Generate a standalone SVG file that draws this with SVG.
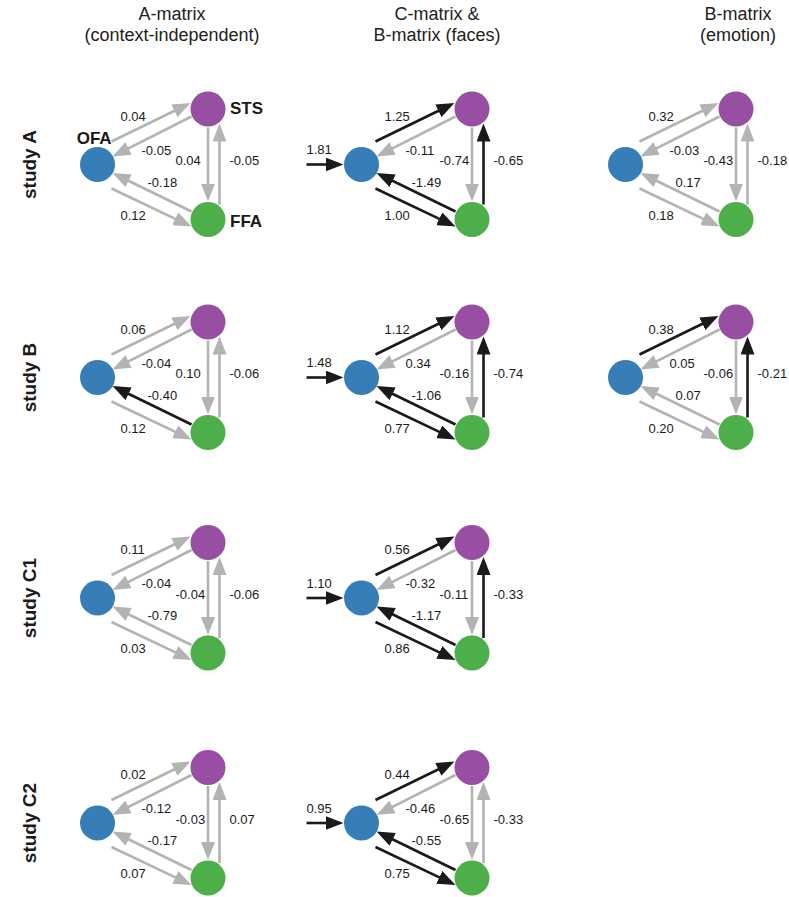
<svg xmlns="http://www.w3.org/2000/svg" width="789" height="897" viewBox="0 0 789 897">
<style>
text{font-family:"Liberation Sans",Arial,sans-serif;fill:#1a1a1a}
.hd{font-size:18px;text-anchor:middle;fill:#222}
.rl{font-size:19px;font-weight:bold;text-anchor:middle}
.nl{font-size:17px;font-weight:bold}
.v{font-size:13px}
.g{stroke:#b3b3b3;stroke-width:2.6;fill:none;marker-end:url(#mg)}
.k{stroke:#1a1a1a;stroke-width:2.6;fill:none;marker-end:url(#mk)}
.ofa{fill:#377eb8}.sts{fill:#984ea3}.ffa{fill:#4daf4a}
</style>
<defs>
<marker id="mg" markerUnits="userSpaceOnUse" markerWidth="19" markerHeight="14" refX="10" refY="7" orient="auto"><path d="M0,0 L18,7 L0,14 z" fill="#b3b3b3"/></marker>
<marker id="mk" markerUnits="userSpaceOnUse" markerWidth="19" markerHeight="14" refX="10" refY="7" orient="auto"><path d="M0,0 L18,7 L0,14 z" fill="#1a1a1a"/></marker>
</defs>
<rect width="789" height="897" fill="#fff"/>
<g id="headers">
<text class="hd" x="172" y="20">A-matrix</text>
<text class="hd" x="172" y="41">(context-independent)</text>
<text class="hd" x="437" y="20">C-matrix &amp;</text>
<text class="hd" x="437" y="41">B-matrix (faces)</text>
<text class="hd" x="738" y="20">B-matrix</text>
<text class="hd" x="738" y="41">(emotion)</text>
</g>
<g id="row-labels">
<text class="rl" transform="translate(36,164.5) rotate(-90)">study A</text>
<text class="rl" transform="translate(36,377.5) rotate(-90)">study B</text>
<text class="rl" transform="translate(36,598) rotate(-90)">study C1</text>
<text class="rl" transform="translate(36,823) rotate(-90)">study C2</text>
</g>

<!-- Study A, A-matrix -->
<g id="pA1" transform="translate(97.5,164.5)">
<g id="pA1-connectors">
<path class="g" d="M14,-23 L85.8,-58"/><path class="g" d="M94,-48 L22.1,-11.6"/><path class="g" d="M110.5,-37 L110.5,29"/><path class="g" d="M122,40 L122,-33"/><path class="g" d="M94,47 L22.2,12"/><path class="g" d="M14,24 L86.8,58.6"/>
<text class="v" x="23" y="-44">0.04</text><text class="v" x="44" y="-10">-0.05</text><text class="v" x="78" y="0.5">0.04</text><text class="v" x="132" y="0.5">-0.05</text><text class="v" x="50" y="22">-0.18</text><text class="v" x="23" y="55">0.12</text>
</g>
<g id="pA1-OFA"><circle class="ofa" r="17.5"/><text class="nl" x="-20.8" y="-20.2">OFA</text></g>
<g id="pA1-STS"><circle class="sts" cx="110.5" cy="-55.5" r="17.5"/><text class="nl" x="132.5" y="-50.5">STS</text></g>
<g id="pA1-FFA"><circle class="ffa" cx="110.5" cy="55" r="17.5"/><text class="nl" x="132.5" y="62.8">FFA</text></g>
</g>

<!-- Study B, A-matrix -->
<g id="pB1" transform="translate(97.5,377.5)">
<g id="pB1-connectors">
<path class="g" d="M14,-23 L85.8,-58"/><path class="g" d="M94,-48 L22.1,-11.6"/><path class="g" d="M110.5,-37 L110.5,29"/><path class="g" d="M122,40 L122,-33"/><path class="k" d="M94,47 L22.2,12"/><path class="g" d="M14,24 L86.8,58.6"/>
<text class="v" x="23" y="-44">0.06</text><text class="v" x="44" y="-10">-0.04</text><text class="v" x="78" y="0.5">0.10</text><text class="v" x="132" y="0.5">-0.06</text><text class="v" x="50" y="22">-0.40</text><text class="v" x="23" y="55">0.12</text>
</g>
<g id="pB1-OFA"><circle class="ofa" r="17.5"/></g>
<g id="pB1-STS"><circle class="sts" cx="110.5" cy="-55.5" r="17.5"/></g>
<g id="pB1-FFA"><circle class="ffa" cx="110.5" cy="55" r="17.5"/></g>
</g>

<!-- Study C1, A-matrix -->
<g id="pC11" transform="translate(97.5,598)">
<g id="pC11-connectors">
<path class="g" d="M14,-23 L85.8,-58"/><path class="g" d="M94,-48 L22.1,-11.6"/><path class="g" d="M110.5,-37 L110.5,29"/><path class="g" d="M122,40 L122,-33"/><path class="g" d="M94,47 L22.2,12"/><path class="g" d="M14,24 L86.8,58.6"/>
<text class="v" x="23" y="-44">0.11</text><text class="v" x="44" y="-10">-0.04</text><text class="v" x="78" y="0.5">-0.04</text><text class="v" x="132" y="0.5">-0.06</text><text class="v" x="50" y="22">-0.79</text><text class="v" x="23" y="55">0.03</text>
</g>
<g id="pC11-OFA"><circle class="ofa" r="17.5"/></g>
<g id="pC11-STS"><circle class="sts" cx="110.5" cy="-55.5" r="17.5"/></g>
<g id="pC11-FFA"><circle class="ffa" cx="110.5" cy="55" r="17.5"/></g>
</g>

<!-- Study C2, A-matrix -->
<g id="pC21" transform="translate(97.5,823)">
<g id="pC21-connectors">
<path class="g" d="M14,-23 L85.8,-58"/><path class="g" d="M94,-48 L22.1,-11.6"/><path class="g" d="M110.5,-37 L110.5,29"/><path class="g" d="M122,40 L122,-33"/><path class="g" d="M94,47 L22.2,12"/><path class="g" d="M14,24 L86.8,58.6"/>
<text class="v" x="23" y="-44">0.02</text><text class="v" x="44" y="-10">-0.12</text><text class="v" x="78" y="0.5">-0.03</text><text class="v" x="132" y="0.5">0.07</text><text class="v" x="50" y="22">-0.17</text><text class="v" x="23" y="55">0.07</text>
</g>
<g id="pC21-OFA"><circle class="ofa" r="17.5"/></g>
<g id="pC21-STS"><circle class="sts" cx="110.5" cy="-55.5" r="17.5"/></g>
<g id="pC21-FFA"><circle class="ffa" cx="110.5" cy="55" r="17.5"/></g>
</g>

<!-- Study A, C/B faces -->
<g id="pA2" transform="translate(361.5,164.5)">
<g id="pA2-connectors">
<path class="k" d="M-55,0 L-26,0"/>
<path class="k" d="M14,-23 L85.8,-58"/><path class="g" d="M94,-48 L22.1,-11.6"/><path class="g" d="M110.5,-37 L110.5,29"/><path class="k" d="M122,40 L122,-33"/><path class="k" d="M94,47 L22.2,12"/><path class="k" d="M14,24 L86.8,58.6"/>
<text class="v" x="-55" y="-10.5">1.81</text><text class="v" x="23" y="-44">1.25</text><text class="v" x="44" y="-10">-0.11</text><text class="v" x="78" y="0.5">-0.74</text><text class="v" x="132" y="0.5">-0.65</text><text class="v" x="50" y="22">-1.49</text><text class="v" x="23" y="55">1.00</text>
</g>
<g id="pA2-OFA"><circle class="ofa" r="17.5"/></g>
<g id="pA2-STS"><circle class="sts" cx="110.5" cy="-55.5" r="17.5"/></g>
<g id="pA2-FFA"><circle class="ffa" cx="110.5" cy="55" r="17.5"/></g>
</g>

<!-- Study B, C/B faces -->
<g id="pB2" transform="translate(361.5,377.5)">
<g id="pB2-connectors">
<path class="k" d="M-55,0 L-26,0"/>
<path class="k" d="M14,-23 L85.8,-58"/><path class="g" d="M94,-48 L22.1,-11.6"/><path class="g" d="M110.5,-37 L110.5,29"/><path class="k" d="M122,40 L122,-33"/><path class="k" d="M94,47 L22.2,12"/><path class="k" d="M14,24 L86.8,58.6"/>
<text class="v" x="-55" y="-10.5">1.48</text><text class="v" x="23" y="-44">1.12</text><text class="v" x="44" y="-10">0.34</text><text class="v" x="78" y="0.5">-0.16</text><text class="v" x="132" y="0.5">-0.74</text><text class="v" x="50" y="22">-1.06</text><text class="v" x="23" y="55">0.77</text>
</g>
<g id="pB2-OFA"><circle class="ofa" r="17.5"/></g>
<g id="pB2-STS"><circle class="sts" cx="110.5" cy="-55.5" r="17.5"/></g>
<g id="pB2-FFA"><circle class="ffa" cx="110.5" cy="55" r="17.5"/></g>
</g>

<!-- Study C1, C/B faces -->
<g id="pC12" transform="translate(361.5,598)">
<g id="pC12-connectors">
<path class="k" d="M-55,0 L-26,0"/>
<path class="k" d="M14,-23 L85.8,-58"/><path class="g" d="M94,-48 L22.1,-11.6"/><path class="g" d="M110.5,-37 L110.5,29"/><path class="k" d="M122,40 L122,-33"/><path class="k" d="M94,47 L22.2,12"/><path class="k" d="M14,24 L86.8,58.6"/>
<text class="v" x="-55" y="-10.5">1.10</text><text class="v" x="23" y="-44">0.56</text><text class="v" x="44" y="-10">-0.32</text><text class="v" x="78" y="0.5">-0.11</text><text class="v" x="132" y="0.5">-0.33</text><text class="v" x="50" y="22">-1.17</text><text class="v" x="23" y="55">0.86</text>
</g>
<g id="pC12-OFA"><circle class="ofa" r="17.5"/></g>
<g id="pC12-STS"><circle class="sts" cx="110.5" cy="-55.5" r="17.5"/></g>
<g id="pC12-FFA"><circle class="ffa" cx="110.5" cy="55" r="17.5"/></g>
</g>

<!-- Study C2, C/B faces -->
<g id="pC22" transform="translate(361.5,823)">
<g id="pC22-connectors">
<path class="k" d="M-55,0 L-26,0"/>
<path class="k" d="M14,-23 L85.8,-58"/><path class="g" d="M94,-48 L22.1,-11.6"/><path class="g" d="M110.5,-37 L110.5,29"/><path class="g" d="M122,40 L122,-33"/><path class="k" d="M94,47 L22.2,12"/><path class="k" d="M14,24 L86.8,58.6"/>
<text class="v" x="-55" y="-10.5">0.95</text><text class="v" x="23" y="-44">0.44</text><text class="v" x="44" y="-10">-0.46</text><text class="v" x="78" y="0.5">-0.65</text><text class="v" x="132" y="0.5">-0.33</text><text class="v" x="50" y="22">-0.55</text><text class="v" x="23" y="55">0.75</text>
</g>
<g id="pC22-OFA"><circle class="ofa" r="17.5"/></g>
<g id="pC22-STS"><circle class="sts" cx="110.5" cy="-55.5" r="17.5"/></g>
<g id="pC22-FFA"><circle class="ffa" cx="110.5" cy="55" r="17.5"/></g>
</g>

<!-- Study A, B emotion -->
<g id="pA3" transform="translate(625.5,164.5)">
<g id="pA3-connectors">
<path class="g" d="M14,-23 L85.8,-58"/><path class="g" d="M94,-48 L22.1,-11.6"/><path class="g" d="M110.5,-37 L110.5,29"/><path class="g" d="M122,40 L122,-33"/><path class="g" d="M94,47 L22.2,12"/><path class="g" d="M14,24 L86.8,58.6"/>
<text class="v" x="23" y="-44">0.32</text><text class="v" x="44" y="-10">-0.03</text><text class="v" x="78" y="0.5">-0.43</text><text class="v" x="132" y="0.5">-0.18</text><text class="v" x="50" y="22">0.17</text><text class="v" x="23" y="55">0.18</text>
</g>
<g id="pA3-OFA"><circle class="ofa" r="17.5"/></g>
<g id="pA3-STS"><circle class="sts" cx="110.5" cy="-55.5" r="17.5"/></g>
<g id="pA3-FFA"><circle class="ffa" cx="110.5" cy="55" r="17.5"/></g>
</g>

<!-- Study B, B emotion -->
<g id="pB3" transform="translate(625.5,377.5)">
<g id="pB3-connectors">
<path class="k" d="M14,-23 L85.8,-58"/><path class="g" d="M94,-48 L22.1,-11.6"/><path class="g" d="M110.5,-37 L110.5,29"/><path class="k" d="M122,40 L122,-33"/><path class="g" d="M94,47 L22.2,12"/><path class="g" d="M14,24 L86.8,58.6"/>
<text class="v" x="23" y="-44">0.38</text><text class="v" x="44" y="-10">0.05</text><text class="v" x="78" y="0.5">-0.06</text><text class="v" x="132" y="0.5">-0.21</text><text class="v" x="50" y="22">0.07</text><text class="v" x="23" y="55">0.20</text>
</g>
<g id="pB3-OFA"><circle class="ofa" r="17.5"/></g>
<g id="pB3-STS"><circle class="sts" cx="110.5" cy="-55.5" r="17.5"/></g>
<g id="pB3-FFA"><circle class="ffa" cx="110.5" cy="55" r="17.5"/></g>
</g>
</svg>
